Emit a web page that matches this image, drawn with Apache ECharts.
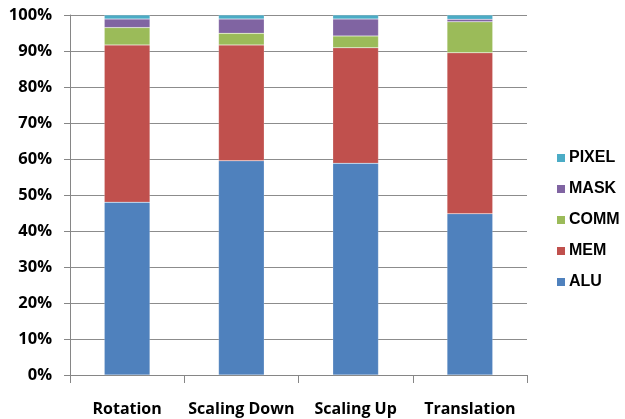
<!DOCTYPE html>
<html>
<head>
<meta charset="utf-8">
<script src="https://cdn.jsdelivr.net/npm/echarts@6/dist/echarts.min.js"></script>
<style>
  html, body { margin: 0; padding: 0; background: #fff; }
  #chart { width: 625px; height: 419px; }
</style>
</head>
<body>
<div id="chart"></div>
<script>
// Share of work per operation (percent of total)
const categories = ['Rotation', 'Scaling Down', 'Scaling Up', 'Translation'];
const alu   = [48.0, 59.5, 58.8, 44.8];
const mem   = [43.7, 32.2, 32.1, 44.7];
const comm  = [4.8, 3.2, 3.3, 8.6];
const mask  = [2.4, 4.0, 4.7, 0.7];
const pixel = [1.1, 1.1, 1.1, 1.2];
const yTicks = [0, 10, 20, 30, 40, 50, 60, 70, 80, 90, 100];

const seriesDefs = [
  { name: 'ALU',   data: alu,   color: '#4F81BD' },
  { name: 'MEM',   data: mem,   color: '#C0504D' },
  { name: 'COMM',  data: comm,  color: '#9BBB59' },
  { name: 'MASK',  data: mask,  color: '#8064A2' },
  { name: 'PIXEL', data: pixel, color: '#4BACC6' }
];

const chart = echarts.init(document.getElementById('chart'));
chart.setOption({
  animation: false,
  grid: { left: 70, right: 98, top: 15, bottom: 44, containLabel: false },
  legend: {
    data: seriesDefs.map(s => s.name).reverse(),
    orient: 'vertical',
    left: 552,
    top: 145,
    itemWidth: 8,
    itemHeight: 8,
    itemGap: 15,
    itemStyle: { borderWidth: 0 },
    icon: 'rect',
    textStyle: { fontFamily: 'Liberation Sans, Arial, sans-serif', fontWeight: 'bold', fontSize: 16, color: '#000', padding: [0, 0, 0, -1] }
  },
  xAxis: {
    type: 'category',
    data: categories,
    axisLine: { lineStyle: { color: '#868686', width: 1 } },
    axisTick: { show: true, interval: 0, length: 8, lineStyle: { color: '#868686' } },
    axisLabel: {
      interval: 0,
      margin: 26,
      color: '#000',
      fontFamily: 'Open Sans, sans-serif',
      fontWeight: 'bold',
      fontSize: 16
    }
  },
  yAxis: {
    type: 'value',
    min: yTicks[0],
    max: yTicks[yTicks.length - 1],
    interval: 10,
    axisLine: { show: true, lineStyle: { color: '#868686', width: 1 } },
    axisTick: { show: true, length: 6, lineStyle: { color: '#868686' } },
    splitLine: { show: true, lineStyle: { color: '#8c8c8c', width: 1 } },
    axisLabel: {
      formatter: '{value}%',
      margin: 18,
      color: '#000',
      fontFamily: 'Open Sans, sans-serif',
      fontWeight: 'bold',
      fontSize: 16.5
    }
  },
  series: seriesDefs.map(s => ({
    name: s.name,
    type: 'bar',
    stack: 'total',
    barWidth: '40%',
    data: s.data,
    itemStyle: { color: s.color, borderColor: 'rgba(255,255,255,0.35)', borderWidth: 0.5 }
  }))
});
</script>
</body>
</html>
